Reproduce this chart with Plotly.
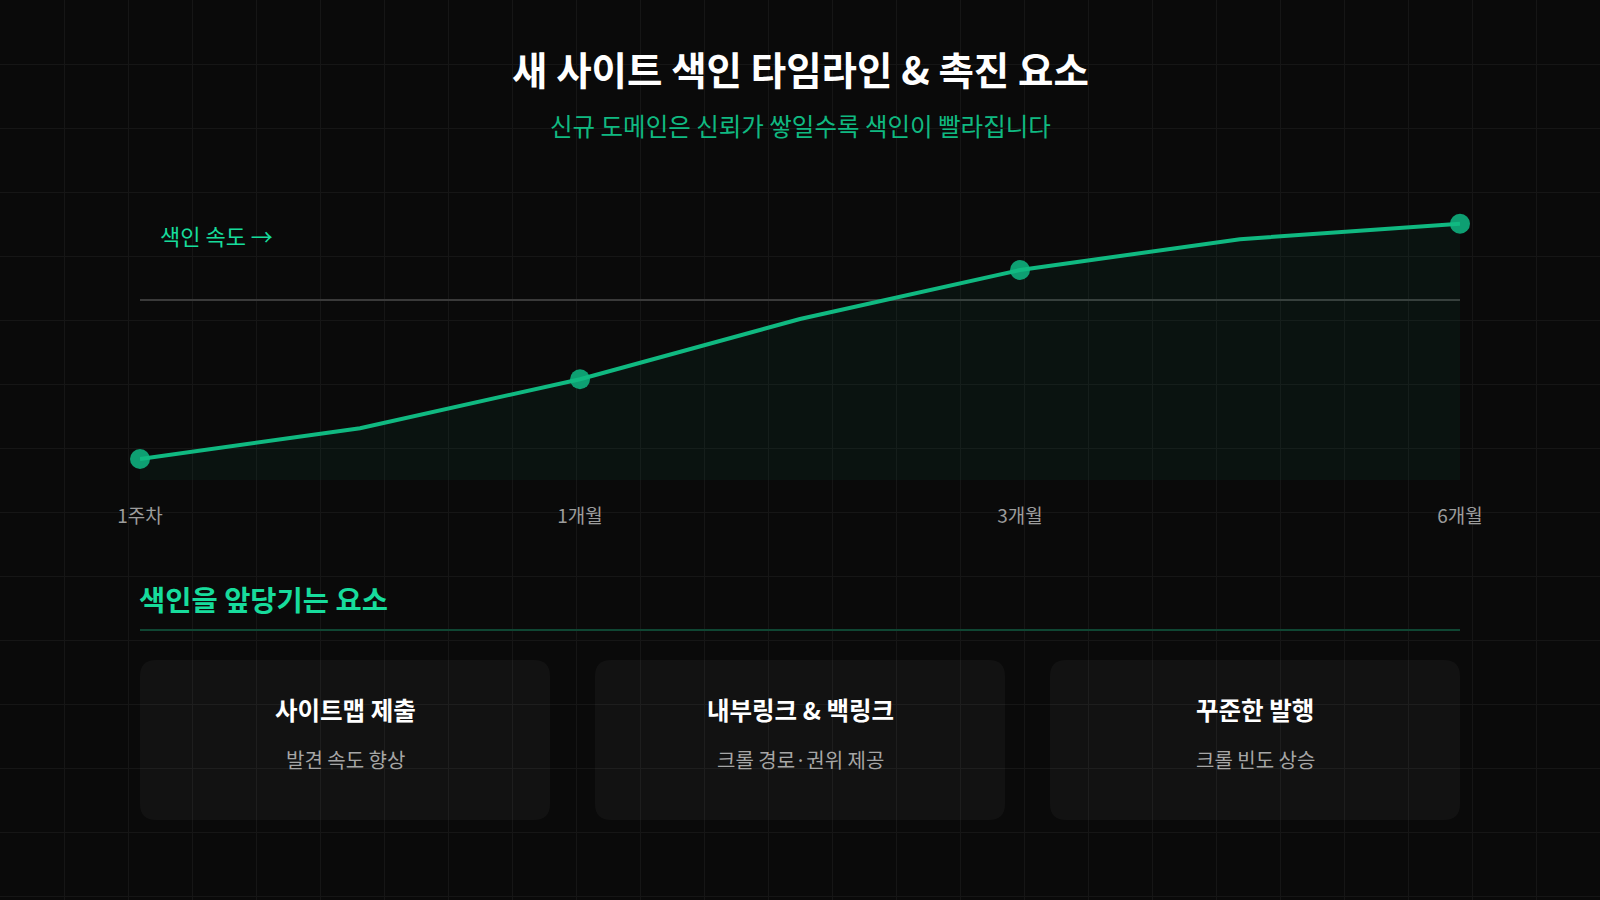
import plotly.graph_objects as go

# ---- data ----
stages = [0, 1, 2, 3, 4, 5, 6]
index_speed = [7.5, 18.5, 36, 57.5, 75, 86, 91.5]
milestone_pos = [0, 2, 4, 6]
milestone_labels = ["1주차", "1개월", "3개월", "6개월"]
reference_level = 64.3

title_text = "새 사이트 색인 타임라인 & 촉진 요소"
subtitle_text = "신규 도메인은 신뢰가 쌓일수록 색인이 빨라집니다"
axis_note = "색인 속도 →"
section_title = "색인을 앞당기는 요소"
factor_titles = ["사이트맵 제출", "내부링크 & 백링크", "꾸준한 발행"]
factor_descs = ["발견 속도 향상", "크롤 경로·권위 제공", "크롤 빈도 상승"]

# ---- style ----
FONT = "Noto Sans CJK KR"
BG = "#0a0a0a"
GRID = "#161616"
GREEN = "#10b981"
GREEN_BRIGHT = "#17dc9c"
W, H = 1600, 900
PX0, PX1 = 140, 1460          # chart horizontal extent (px)
PY_TOP, PY_BOT = 200, 480     # chart vertical extent (px)

fig = go.Figure()

# invisible trace to anchor the pixel-space background subplot
fig.add_trace(go.Scatter(x=[0], y=[0], mode="markers", marker=dict(opacity=0),
                         hoverinfo="skip", showlegend=False, xaxis="x", yaxis="y"))

# area fill
fig.add_trace(go.Scatter(
    x=stages, y=index_speed, mode="lines", fill="tozeroy",
    fillcolor="rgba(16,185,129,0.055)",
    line=dict(color="rgba(0,0,0,0)", width=0),
    hoverinfo="skip", showlegend=False, xaxis="x2", yaxis="y2"))

mx = [stages[i] for i in milestone_pos]
my = [index_speed[i] for i in milestone_pos]
fig.add_trace(go.Scatter(
    x=mx, y=my, mode="markers",
    marker=dict(size=20, color="#0e9f72", line=dict(width=0)),
    cliponaxis=False, hoverinfo="skip", showlegend=False, xaxis="x2", yaxis="y2"))

fig.add_trace(go.Scatter(
    x=stages, y=index_speed, mode="lines",
    line=dict(color=GREEN, width=4),
    cliponaxis=False, hoverinfo="skip", showlegend=False, xaxis="x2", yaxis="y2"))

shapes = []
ref_y_px = PY_BOT - (reference_level / 100.0) * (PY_BOT - PY_TOP)
shapes.append(dict(type="line", xref="x", yref="y", x0=PX0, x1=PX1, y0=ref_y_px, y1=ref_y_px,
                   line=dict(color="#3a3a3a", width=2), layer="between"))
shapes.append(dict(type="line", xref="x", yref="y", x0=PX0, x1=PX1, y0=630, y1=630,
                   line=dict(color="#0f4633", width=2), layer="between"))


def rounded_rect(x0, y0, x1, y1, r):
    return (f"M{x0 + r},{y0} L{x1 - r},{y0} Q{x1},{y0} {x1},{y0 + r} "
            f"L{x1},{y1 - r} Q{x1},{y1} {x1 - r},{y1} L{x0 + r},{y1} "
            f"Q{x0},{y1} {x0},{y1 - r} L{x0},{y0 + r} Q{x0},{y0} {x0 + r},{y0} Z")


n = len(factor_titles)
gap = 45
card_w = (PX1 - PX0 - gap * (n - 1)) / n
annotations = []
for i in range(n):
    cx0 = PX0 + i * (card_w + gap)
    cx1 = cx0 + card_w
    shapes.append(dict(type="path", xref="x", yref="y",
                       path=rounded_rect(cx0, 660, cx1, 820, 16),
                       fillcolor="rgba(255,255,255,0.035)", line=dict(width=0),
                       layer="between"))
    cxm = (cx0 + cx1) / 2
    annotations.append(dict(x=cxm, y=709, xref="x", yref="y", text=factor_titles[i],
                            showarrow=False, xanchor="center", yanchor="middle",
                            font=dict(family=FONT, size=24.5, color="#ffffff", weight=700)))
    annotations.append(dict(x=cxm, y=759, xref="x", yref="y", text=factor_descs[i],
                            showarrow=False, xanchor="center", yanchor="middle",
                            font=dict(family=FONT, size=20, color="#a6a6a6")))

annotations += [
    dict(x=800, y=68, xref="x", yref="y", text=title_text, showarrow=False,
         xanchor="center", yanchor="middle",
         font=dict(family=FONT, size=38.5, color="#ffffff", weight=700)),
    dict(x=800, y=125, xref="x", yref="y", text=subtitle_text, showarrow=False,
         xanchor="center", yanchor="middle",
         font=dict(family=FONT, size=24.5, color=GREEN)),
    dict(x=158, y=235, xref="x", yref="y", text=axis_note, showarrow=False,
         xanchor="left", yanchor="middle",
         font=dict(family=FONT, size=22, color=GREEN_BRIGHT)),
    dict(x=137, y=598, xref="x", yref="y", text=section_title, showarrow=False,
         xanchor="left", yanchor="middle",
         font=dict(family=FONT, size=28.5, color=GREEN_BRIGHT, weight=700)),
]

fig.update_layout(
    width=W, height=H,
    margin=dict(l=0, r=0, t=0, b=0, pad=0, autoexpand=False),
    paper_bgcolor=BG, plot_bgcolor="rgba(0,0,0,0)",
    hovermode=False, showlegend=False,
    xaxis=dict(domain=[0, 1], range=[0, W], anchor="y", tick0=0, dtick=64,
               showgrid=True, gridcolor=GRID, gridwidth=1, zeroline=False,
               showticklabels=False, ticks="", showline=False, fixedrange=True,
               automargin=False),
    yaxis=dict(domain=[0, 1], range=[H, 0], anchor="x", tick0=0, dtick=64,
               showgrid=True, gridcolor=GRID, gridwidth=1, zeroline=False,
               showticklabels=False, ticks="", showline=False, fixedrange=True,
               automargin=False),
    xaxis2=dict(domain=[PX0 / W, PX1 / W], range=[0, 6], anchor="y2",
                tickmode="array", tickvals=milestone_pos, ticktext=milestone_labels,
                ticks="outside", ticklen=19, tickcolor="rgba(0,0,0,0)",
                tickfont=dict(family=FONT, size=19, color="#9c9c9c"),
                showgrid=False, zeroline=False, showline=False, fixedrange=True,
                automargin=False),
    yaxis2=dict(domain=[(H - PY_BOT) / H, (H - PY_TOP) / H], range=[0, 100], anchor="x2",
                visible=False, showgrid=False, zeroline=False, fixedrange=True,
                automargin=False),
    shapes=shapes, annotations=annotations,
)

fig.write_html(
    "out.html",
    config={"displayModeBar": False, "responsive": False},
    post_script="document.body.style.margin='0';document.body.style.overflow='hidden';"
                "document.body.style.background='#0a0a0a';",
)
